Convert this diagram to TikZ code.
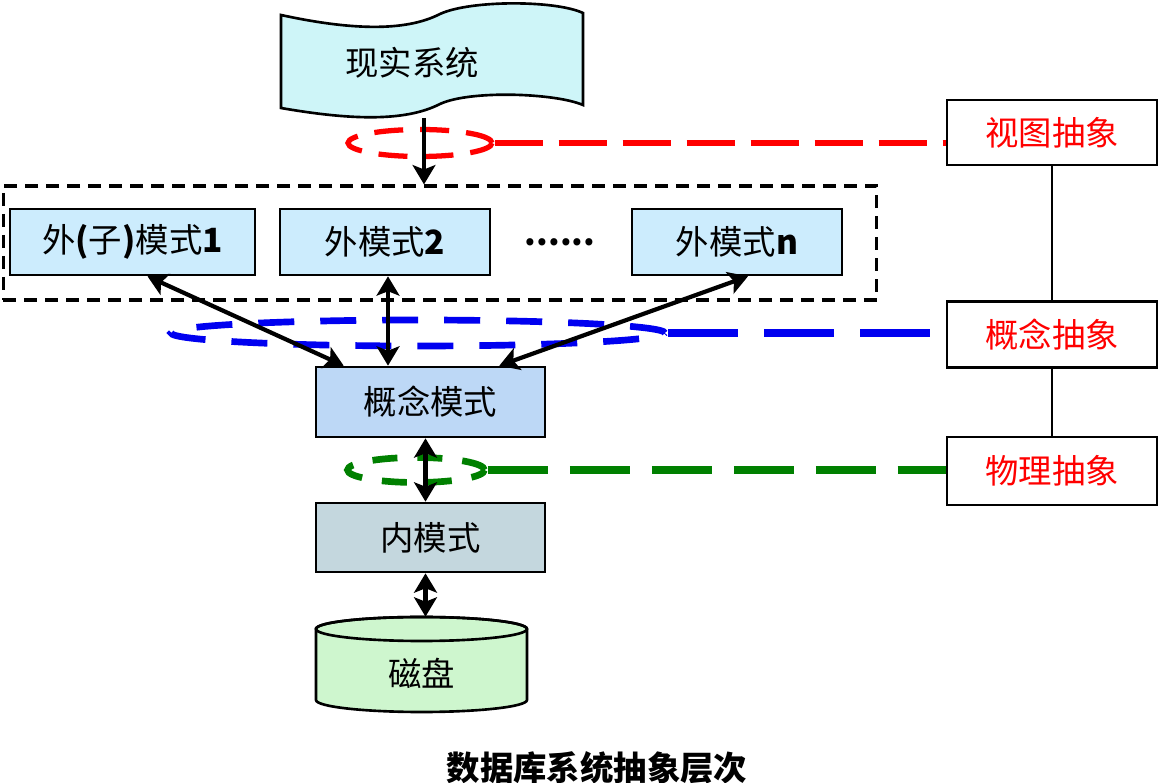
\documentclass[tikz,border=0pt]{standalone}
\usepackage{fontspec}
\setmainfont{Noto Sans CJK SC}
\usepackage{xcolor}
\usepackage{tikz}
\usetikzlibrary{calc, positioning, arrows.meta, shapes.geometric}

\definecolor{extfill}{RGB}{204,236,253}
\definecolor{concfill}{RGB}{189,216,246}
\definecolor{intfill}{RGB}{196,215,222}
\definecolor{diskfill}{RGB}{206,246,206}
\definecolor{tapefill}{RGB}{206,245,248}
\definecolor{ringblue}{RGB}{0,0,240}
\definecolor{ringgreen}{RGB}{0,128,0}

\begin{document}
\begin{tikzpicture}[x=0.02cm, y=-0.02cm,
  txt/.style={font=\fontsize{19}{22}\selectfont},
  box/.style={draw, line width=1.5pt, txt, inner sep=0pt},
  modbox/.style={box, fill=extfill, minimum width=4.2cm, minimum height=1.32cm},
  absbox/.style={box, fill=white, text=red, minimum width=4.2cm, minimum height=1.3cm},
  ring/.style={ellipse, draw, inner sep=0pt, line width=3pt},
  dbl/.style={line width=2.4pt, {Stealth[length=11pt, width=13pt, inset=2.5pt]}-{Stealth[length=11pt, width=13pt, inset=2.5pt]}},
  arr/.style={line width=2.4pt, -{Stealth[length=11pt, width=13pt, inset=2.5pt]}}]
  \useasboundingbox (0,0) rectangle (1161,783);

  % real system (tape)
  \filldraw[fill=tapefill, line width=1.5pt] (281,15) .. controls (350,30) and (405,32) .. (440,14)
    .. controls (470,0) and (555,0) .. (583,13) -- (583,105)
    .. controls (555,93) and (470,90) .. (440,104) .. controls (405,122) and (350,120) .. (281,108) -- cycle;
  \node[txt] (real) at (412,63) {现实系统};
  \coordinate (realfoot) at (424,118);

  % external schemas
  \node[draw, line width=1.8pt, dash pattern=on 0.26cm off 0.16cm, minimum width=17.48cm, minimum height=2.28cm] (extgroup) at (440,243) {};
  \node[modbox, minimum width=4.9cm] (ext1) at (132.5,242) {外{\bfseries (}子{\bfseries )}模式{\bfseries 1}};
  \node[modbox] (ext2) at (385,242) {外模式{\bfseries 2}};
  \node[txt] (dots) at (560,242) {\bfseries ......};
  \node[modbox] (extn) at (737,242) {外模式{\bfseries n}};

  % conceptual / internal / disk
  \node[box, fill=concfill, minimum width=4.58cm, minimum height=1.4cm] (concept) at (430.5,402) {概念模式};
  \node[box, fill=intfill, minimum width=4.58cm, minimum height=1.38cm] (internal) at (430.5,537.5) {内模式};
  \node[minimum width=4.22cm, minimum height=1.9cm, inner sep=0pt] (disk) at (421.5,664.5) {};
  \filldraw[fill=diskfill, line width=1.5pt] (316,629) -- (316,700) arc[start angle=180, end angle=0, x radius=105.5, y radius=12]
    -- (527,629) arc[start angle=0, end angle=-180, x radius=105.5, y radius=12] -- cycle;
  \draw[line width=1.5pt] (421.5,629) ellipse [x radius=105.5, y radius=12];
  \node[txt] (disklabel) at (421.5,673) {磁盘};

  % abstraction levels
  \node[absbox] (view) at (1052,132.5) {视图抽象};
  \node[absbox, minimum height=1.32cm] (concabs) at (1052,334.5) {概念抽象};
  \node[absbox, minimum height=1.36cm] (physabs) at (1052,471) {物理抽象};
  \draw[line width=1.5pt] (view) -- (concabs);
  \draw[line width=1.5pt] (concabs) -- (physabs);

  % dashed rings
  \node[ring, red, dash pattern=on 0.58cm off 0.34cm, minimum width=2.88cm, minimum height=0.54cm] (viewring) at (420,143) {};
  \node[ring, ringblue, line width=3.8pt, dash pattern=on 0.72cm off 0.52cm, minimum width=9.88cm, minimum height=0.52cm] (concring) at (418,333) {};
  \node[ring, ringgreen, line width=3.8pt, dash pattern=on 0.5cm off 0.4cm, minimum width=2.74cm, minimum height=0.5cm] (physring) at (416,470) {};
  \draw[red, line width=3.4pt, dash pattern=on 0.96cm off 0.32cm] (viewring.east) -- (viewring.east -| view.west);
  \draw[ringblue, line width=4pt, dash pattern=on 1.4cm off 0.52cm] (concring.east) -- (concring.east -| concabs.west);
  \draw[ringgreen, line width=4pt, dash pattern=on 1.2cm off 0.44cm] (physring.east) -- (physring.east -| physabs.west);

  % arrows
  \draw[arr] (realfoot) -- (realfoot |- extgroup.north);
  \draw[dbl] ([xshift=0.3cm]ext1.south) -- ([xshift=0.58cm]concept.north west);
  \draw[dbl] ([xshift=0.06cm]ext2.south) -- ([xshift=0.06cm]ext2.south |- concept.north);
  \draw[dbl] ([xshift=0.22cm]extn.south) -- ([xshift=-0.94cm]concept.north east);
  \draw[dbl] ([xshift=-0.1cm]concept.south) -- ([xshift=-0.1cm]internal.north);
  \draw[dbl] ([xshift=-0.1cm]internal.south) -- ([xshift=-0.1cm]internal.south |- disk.north);

  \node[font=\fontsize{19}{22}\selectfont\bfseries] (title) at (597,768) {数据库系统抽象层次};
\end{tikzpicture}
\end{document}
